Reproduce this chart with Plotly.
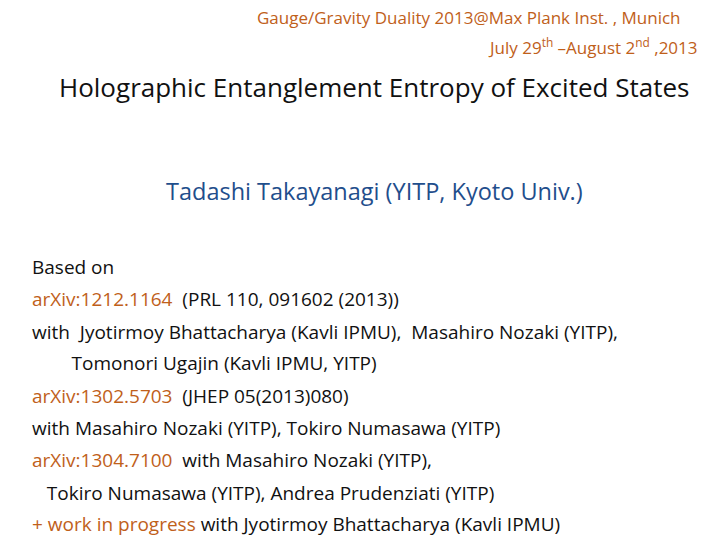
import plotly.graph_objects as go

ORANGE = "#C0601A"
BLUE = "#1F4E8C"
BLACK = "#111111"

header_lines = ["Gauge/Gravity Duality 2013@Max Plank Inst. , Munich",
                "July 29<sup>th</sup> –August 2<sup>nd</sup> ,2013"]
title = "Holographic Entanglement Entropy of Excited States"
author = "Tadashi Takayanagi (YITP, Kyoto Univ.)"

# (orange part, black part) per body line
body_lines = [
    ("", "Based on"),
    ("arXiv:1212.1164", "  (PRL 110, 091602 (2013))"),
    ("", "with  Jyotirmoy Bhattacharya (Kavli IPMU),  Masahiro Nozaki (YITP),"),
    ("", "        Tomonori Ugajin (Kavli IPMU, YITP)"),
    ("arXiv:1302.5703", "  (JHEP 05(2013)080)"),
    ("", "with Masahiro Nozaki (YITP), Tokiro Numasawa (YITP)"),
    ("arXiv:1304.7100", "  with Masahiro Nozaki (YITP),"),
    ("", "   Tokiro Numasawa (YITP), Andrea Prudenziati (YITP)"),
    ("+ work in progress", " with Jyotirmoy Bhattacharya (Kavli IPMU)"),
]
body_y = [267, 299, 332, 363, 396, 428, 460, 493, 524]

W, H = 720, 540
FONT = "Open Sans"
DY = -8   # vertical correction
DX = -10  # horizontal correction for annotation padding

fig = go.Figure()
ann = []
ann.append(dict(x=461 / W, y=1 - (18 + DY) / H, text=header_lines[0], xanchor="center",
                font=dict(size=17, color=ORANGE)))
ann.append(dict(x=692 / W, y=1 - (47 + DY) / H, text=header_lines[1], xanchor="right",
                font=dict(size=17, color=ORANGE)))
ann.append(dict(x=366 / W, y=1 - (87 + DY) / H, text=title, xanchor="center",
                font=dict(size=26, color=BLACK)))
ann.append(dict(x=366 / W, y=1 - (191 + DY) / H, text=author, xanchor="center",
                font=dict(size=23.5, color=BLUE)))
for (o, b), yy in zip(body_lines, body_y):
    txt = ""
    if o:
        txt += f'<span style="color:{ORANGE}">{o}</span>'
    txt += b.replace("  ", "&nbsp;&nbsp;")
    ann.append(dict(x=(32 + DX) / W, y=1 - (yy + DY) / H, text=txt, xanchor="left",
                    font=dict(size=19, color=BLACK)))

for a in ann:
    a.update(xref="paper", yref="paper", yanchor="middle", showarrow=False)
    a["font"]["family"] = FONT

fig.update_layout(width=W, height=H, margin=dict(l=0, r=0, t=0, b=0),
                  paper_bgcolor="white", plot_bgcolor="white",
                  xaxis=dict(visible=False), yaxis=dict(visible=False),
                  annotations=ann)
fig.write_html("out.html")
